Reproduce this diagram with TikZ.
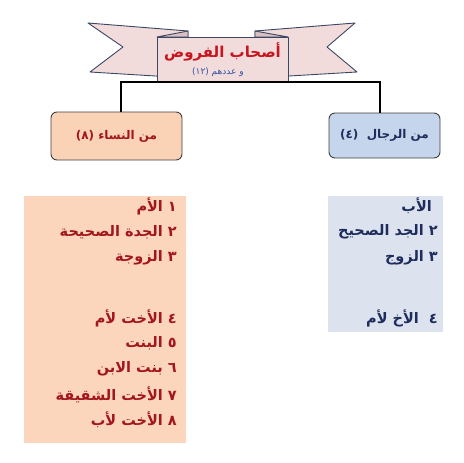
\documentclass[tikz,border=0pt]{standalone}
\usepackage{fontspec}
\newfontfamily\arabicfont[Script=Arabic]{DejaVu Sans}
\TeXXeTstate=1
\usetikzlibrary{arrows.meta}
\definecolor{bannerpink}{HTML}{F2DCDB}
\definecolor{bannerfold}{HTML}{D9C0C2}
\definecolor{bannerline}{HTML}{3C4766}
\definecolor{titlered}{HTML}{C8141E}
\definecolor{subblue}{HTML}{3352A3}
\definecolor{womenfill}{HTML}{FAD3B7}
\definecolor{womenlist}{HTML}{FBD6BD}
\definecolor{womentext}{HTML}{A3161B}
\definecolor{menfill}{HTML}{C5D5EB}
\definecolor{menlist}{HTML}{DCE3EE}
\definecolor{mentext}{HTML}{1F2D5C}
\newcommand{\artxt}[1]{\arabicfont\bfseries\beginR #1\endR}
\begin{document}
\begin{tikzpicture}[x=1pt,y=-1pt,
    tail/.style={draw=bannerline,fill=bannerpink,line width=0.9pt,line join=round},
    groupbox/.style={draw=black!75,line width=0.9pt,rounded corners=6pt,inner sep=0pt},
    item/.style={anchor=east,inner sep=0pt,font=\fontsize{14.5}{16}\selectfont}]
  \useasboundingbox (0,0) rectangle (463,463);
  % banner
  \filldraw[tail] (88,23)--(188,31)--(188,78)--(90,72)--(123,47)--cycle;
  \filldraw[tail] (355,23)--(255,31)--(255,78)--(357,72)--(327,47)--cycle;
  \filldraw[tail,fill=bannerfold] (157,37)--(188,31)--(188,37)--cycle (288,37)--(255,31)--(255,37)--cycle;
  \node[draw=bannerline,fill=bannerpink,line width=0.9pt,minimum width=131,minimum height=45,inner sep=0pt] (banner) at (222.5,59.5) {};
  \node[text=titlered,font=\fontsize{15}{18}\selectfont,inner sep=0pt] (title) at (222.5,52) {\artxt{أصحاب الفروض}};
  \node[text=subblue,font=\fontsize{9}{10}\selectfont,inner sep=0pt] (count) at (218,72) {\arabicfont\beginR و عددهم \beginL(١٢)\endL\endR};
  % groups
  \node[groupbox,fill=womenfill,minimum width=131,minimum height=48,text=womentext,font=\fontsize{12}{14}\selectfont] (women) at (116.5,136) {\artxt{من النساء \beginL(٨)\endL}};
  \node[groupbox,fill=menfill,minimum width=111,minimum height=45,text=mentext,font=\fontsize{12}{14}\selectfont] (men) at (384.5,135.5) {\artxt{من الرجال \ \beginL(٤)\endL}};
  \draw[line width=2pt] ([xshift=4.5]women.north) |- (banner.south) -| ([xshift=-4.5]men.north);
  % lists
  \fill[womenlist] (24,196) rectangle (186,443);
  \fill[menlist] (328,196) rectangle (443,332);
  \foreach \y/\t in {206/{١ الأم},232/{٢ الجدة الصحيحة},258/{٣ الزوجة},318/{٤ الأخت لأم},343/{٥ البنت},369/{٦ بنت الابن},395/{٧ الأخت الشقيقة},420/{٨ الأخت لأب}}
    \node[item,text=womentext] at (177,\y) {\artxt{\t}};
  \node[item,text=mentext] (father) at (432,206) {\artxt{الأب}};
  \foreach \y/\t in {232/{٢ الجد الصحيح},258/{٣ الزوج},318/{٤ \ الأخ لأم}}
    \node[item,text=mentext] at (438,\y) {\artxt{\t}};
\end{tikzpicture}
\end{document}
